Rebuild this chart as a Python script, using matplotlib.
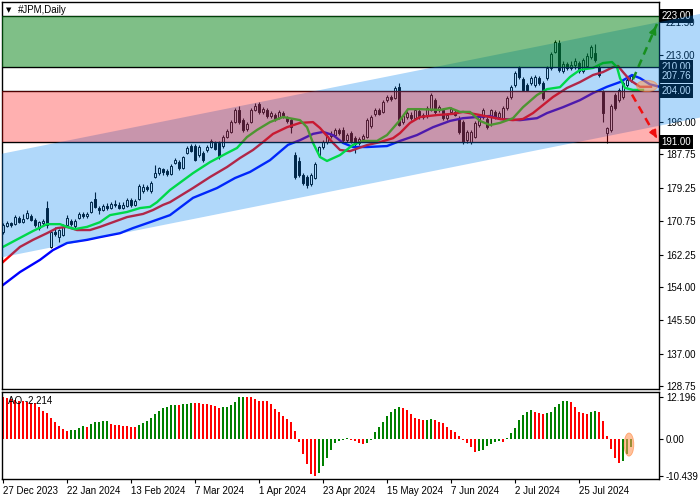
import matplotlib
matplotlib.use("Agg")
import matplotlib.pyplot as plt
from matplotlib.patches import Rectangle, Ellipse, Polygon
from matplotlib.transforms import blended_transform_factory
import numpy as np

plt.rcParams['font.family'] = ['Liberation Sans', 'DejaVu Sans']

# ---------------- data ----------------
opens = [168.0, 169.6, 170.2, 170.0, 171.6, 170.6, 171.6, 172.0, 171.1, 169.0,
         170.3, 174.1, 164.2, 168.0, 166.6, 167.2, 169.8, 170.8, 169.6, 171.6,
         172.5, 172.0, 173.1, 176.4, 174.1, 173.6, 174.6, 174.1, 175.1, 174.8,
         174.1, 174.6, 176.1, 174.9, 176.4, 178.4, 179.5, 178.4, 182.0, 183.0,
         184.0, 183.5, 182.8, 185.6, 185.8, 184.3, 188.1, 189.9, 189.9, 187.6,
         188.1, 188.9, 189.6, 190.6, 190.7, 189.9, 192.2, 193.5, 196.0, 199.1,
         196.5, 194.3, 196.0, 199.1, 200.6, 198.6, 199.1, 197.6, 197.8, 197.2,
         198.3, 197.0, 196.5, 187.6, 186.0, 182.5, 182.0, 180.2, 181.8, 187.6,
         189.6, 190.9, 192.5, 192.7, 193.9, 194.0, 191.4, 193.2, 191.9, 190.6,
         191.7, 192.2, 195.0, 198.0, 199.0, 198.5, 201.6, 202.3, 202.1, 204.9,
         196.0, 197.3, 197.9, 197.0, 198.8, 197.3, 197.5, 199.1, 201.6, 199.1,
         199.1, 197.0, 198.6, 198.6, 197.0, 196.0, 191.4, 191.0, 192.2, 195.3,
         197.3, 196.8, 197.3, 198.6, 197.3, 197.0, 199.6, 202.4, 205.4, 209.8,
         207.0, 205.4, 205.9, 205.4, 207.2, 206.0, 207.2, 209.8, 213.9, 216.1,
         209.0, 210.8, 209.8, 210.5, 211.0, 209.0, 210.3, 212.6, 213.6, 210.0,
         203.7, 193.2, 194.0, 202.9, 201.6, 202.4, 205.4, 206.7]
highs = [170.3, 170.8, 170.5, 172.3, 172.0, 172.6, 173.6, 172.6, 171.6, 170.8,
         171.4, 176.0, 168.5, 169.3, 168.8, 170.0, 172.4, 171.3, 171.3, 173.1,
         173.0, 173.0, 176.0, 178.2, 174.6, 175.1, 175.3, 175.6, 176.1, 175.6,
         175.6, 176.6, 176.6, 176.3, 180.2, 180.3, 180.0, 181.0, 185.0, 184.6,
         184.3, 184.0, 185.2, 186.8, 186.3, 187.4, 189.9, 190.4, 190.4, 190.1,
         188.6, 190.1, 191.6, 191.2, 191.2, 192.7, 194.2, 196.5, 199.6, 200.1,
         197.0, 196.0, 199.6, 200.9, 201.1, 199.8, 199.6, 198.8, 198.3, 199.0,
         198.8, 197.5, 197.0, 188.5, 187.1, 183.0, 182.5, 183.0, 185.8, 190.0,
         191.4, 193.0, 193.8, 194.5, 194.4, 194.8, 193.1, 193.7, 192.4, 192.2,
         193.0, 197.0, 197.8, 199.5, 199.6, 201.6, 202.9, 202.9, 205.2, 206.0,
         198.0, 198.8, 198.5, 199.5, 199.3, 198.3, 200.0, 203.4, 202.1, 200.3,
         199.6, 198.3, 199.8, 199.1, 197.5, 196.5, 194.0, 194.0, 196.3, 197.8,
         199.6, 197.3, 199.4, 199.1, 198.8, 200.1, 202.6, 205.4, 209.0, 210.3,
         207.5, 205.9, 207.7, 208.0, 207.7, 206.5, 210.3, 213.8, 216.9, 216.9,
         211.5, 211.3, 211.5, 212.3, 211.5, 212.3, 213.6, 215.6, 215.9, 210.5,
         204.2, 194.7, 200.6, 203.4, 204.7, 206.4, 207.5, 208.0]
lows = [167.5, 169.2, 169.3, 169.8, 170.2, 170.3, 171.3, 170.8, 169.3, 168.5,
        169.8, 169.0, 164.0, 167.0, 165.4, 167.0, 169.5, 169.5, 169.0, 171.3,
        171.6, 171.6, 172.8, 174.0, 172.6, 173.3, 173.5, 173.8, 174.4, 173.8,
        173.8, 174.3, 174.4, 174.6, 176.1, 178.0, 178.4, 178.0, 181.7, 182.6,
        182.6, 182.3, 182.5, 185.2, 183.8, 184.0, 187.8, 188.3, 186.0, 187.1,
        185.8, 188.4, 189.4, 188.9, 186.6, 189.4, 191.9, 193.2, 195.8, 195.5,
        193.6, 193.8, 195.7, 198.8, 198.1, 198.0, 197.1, 197.0, 196.3, 196.8,
        197.0, 195.8, 193.2, 181.5, 182.0, 180.0, 179.2, 179.8, 181.5, 187.2,
        189.2, 190.5, 192.0, 192.4, 192.8, 191.0, 190.9, 190.7, 188.1, 190.2,
        191.2, 191.9, 194.6, 197.6, 197.7, 198.2, 201.2, 201.3, 201.8, 194.9,
        195.5, 196.8, 196.5, 196.7, 196.9, 196.8, 197.1, 198.8, 198.1, 198.7,
        196.5, 196.5, 198.1, 197.5, 193.0, 190.5, 190.7, 190.5, 191.9, 194.8,
        196.9, 194.2, 195.0, 196.8, 196.8, 196.6, 199.2, 202.0, 205.0, 207.0,
        203.8, 203.8, 205.5, 205.0, 205.5, 201.7, 206.8, 209.3, 213.5, 208.8,
        208.5, 209.3, 209.3, 209.6, 208.5, 208.6, 210.0, 212.2, 211.3, 207.5,
        196.0, 190.7, 193.5, 199.1, 201.1, 202.0, 205.0, 206.3]
closes = [169.8, 170.2, 169.8, 171.8, 170.6, 171.3, 172.8, 171.1, 169.8, 170.5,
          170.9, 169.8, 168.0, 167.5, 168.4, 169.3, 171.6, 170.0, 170.8, 172.6,
          172.0, 172.5, 175.6, 174.4, 173.6, 174.6, 174.0, 175.1, 174.8, 174.1,
          175.0, 176.1, 174.8, 175.8, 179.7, 179.5, 179.0, 180.5, 183.0, 184.2,
          183.2, 182.8, 184.8, 186.3, 184.3, 187.1, 189.4, 188.6, 186.3, 189.6,
          186.3, 189.6, 191.2, 189.2, 187.1, 192.2, 193.7, 196.0, 199.1, 196.0,
          194.0, 195.5, 199.1, 200.1, 198.6, 199.3, 197.6, 198.3, 196.8, 198.5,
          197.6, 196.2, 194.8, 182.0, 182.5, 180.5, 180.0, 182.5, 185.3, 189.6,
          190.9, 192.5, 193.0, 194.0, 193.3, 191.4, 192.6, 191.2, 190.4, 191.7,
          192.5, 196.5, 197.3, 199.0, 198.1, 201.1, 202.4, 201.8, 204.7, 195.3,
          197.5, 198.3, 197.0, 199.0, 197.3, 197.8, 199.5, 202.9, 198.6, 199.8,
          197.0, 197.8, 199.3, 197.9, 193.5, 190.9, 193.5, 193.5, 195.8, 197.3,
          199.1, 194.7, 199.1, 197.3, 198.3, 199.6, 202.1, 204.9, 208.5, 207.5,
          204.2, 204.2, 207.2, 207.5, 206.0, 202.1, 209.8, 213.3, 216.4, 209.3,
          210.8, 209.8, 210.5, 211.6, 209.0, 211.8, 212.8, 215.1, 211.8, 208.0,
          198.3, 194.5, 200.1, 199.6, 204.2, 205.9, 206.7, 207.76]

ao_values = [12.01, 11.91, 11.62, 11.34, 11.05, 10.86, 10.67, 10.48, 10.29, 9.34,
             8.19, 7.43, 6.10, 4.86, 3.81, 3.05, 2.48, 2.67, 2.77, 3.33,
             3.81, 3.62, 4.38, 4.95, 5.05, 5.10, 5.14, 4.38, 4.20, 4.10,
             3.90, 3.81, 3.62, 3.52, 4.20, 4.76, 5.33, 6.10, 7.24, 8.19,
             8.86, 9.34, 9.72, 9.91, 9.72, 10.00, 10.19, 10.48, 10.39, 10.29,
             10.10, 10.00, 9.81, 9.43, 9.05, 9.15, 9.34, 9.81, 10.67, 12.01,
             12.196, 12.10, 12.01, 11.53, 11.05, 10.96, 10.86, 10.10, 8.67, 7.72,
             6.76, 5.81, 4.86, 2.39, -0.66, -4.10, -7.05, -9.81, -10.439, -9.53,
             -7.62, -5.24, -3.05, -0.96, -0.47, -0.19, 0.47, -0.09, -0.57, -0.96,
             -1.34, -1.15, -0.10, 2.09, 3.43, 5.05, 6.67, 7.81, 8.77, 9.34,
             9.05, 8.38, 7.24, 6.10, 5.72, 5.53, 5.62, 5.72, 5.43, 4.95,
             4.67, 3.62, 2.67, 2.00, 0.96, -0.28, -0.96, -2.28, -3.52, -3.43,
             -2.95, -2.00, -1.34, -0.85, -0.57, -0.76, 0.38, 1.71, 3.24, 5.53,
             6.95, 7.81, 8.29, 7.91, 7.53, 7.34, 7.62, 7.81, 9.15, 10.00,
             10.86, 10.96, 10.67, 9.15, 7.72, 7.53, 7.34, 7.91, 8.10, 7.81,
             5.14, 1.05, -2.67, -5.24, -6.86, -6.29, -4.19, -2.214]

# Alligator lines: (bar index, price)
lips_x = [0, 4.25, 7.5, 11, 14.25, 16, 18, 21, 24.25, 26.75, 31, 34.25, 36.75, 38.5,
          41.75, 47.5, 51.75, 56, 58.5, 61, 63.5, 66.75, 70, 74.25, 76, 77.5, 79.25,
          81, 84.25, 87.5, 90, 93.5, 96, 99.25, 101.25, 104.25, 109.25, 111.75,
          114.25, 116.75, 119.25, 121.75, 124.25, 127.5, 130, 133.5, 136, 139.25,
          141.75, 144.25, 147.5, 150, 152.25, 153.5, 154.25, 155.5, 157.5, 160]
lips_y = [164.2, 166.5, 168.25, 170.0, 170.0, 169.3, 168.75, 169.3, 170.5, 172.3,
          173.1, 174.1, 174.4, 175.6, 178.7, 183.0, 185.8, 188.1, 189.4, 192.2,
          194.0, 196.0, 197.3, 196.5, 194.7, 190.7, 187.1, 186.1, 187.6, 190.2,
          191.2, 191.2, 192.7, 196.5, 199.3, 199.3, 199.1, 199.6, 198.6, 198.6,
          196.3, 195.25, 195.8, 197.0, 199.8, 202.9, 204.4, 204.9, 207.5, 209.3,
          209.8, 211.05, 211.3, 210.0, 207.2, 204.7, 204.2, 204.2]
teeth_x = [0, 4.25, 7.5, 11, 13.5, 16, 18.5, 21.75, 24.25, 27.5, 31, 35, 37.5, 40,
           41.75, 47.5, 51.75, 56, 59.25, 62.5, 65, 67.5, 71, 74.25, 77.5, 79.25,
           82.5, 84.25, 86.75, 91, 94.25, 97.5, 99.25, 101.75, 104.25, 108.5, 112.5,
           115, 119.25, 121.75, 124.25, 127.5, 130, 132.5, 135, 137.5, 141, 144.25,
           147.5, 150, 152.5, 153.75, 155, 156.75, 159.25, 162]
teeth_y = [160.35, 164.2, 166.0, 167.7, 169.0, 169.3, 168.5, 168.5, 169.3, 170.5,
           171.8, 172.6, 173.6, 174.9, 175.6, 179.2, 182.0, 184.55, 186.85, 188.9,
           190.9, 193.0, 194.7, 195.8, 196.0, 194.5, 190.7, 188.9, 188.6, 190.15,
           190.9, 191.9, 193.2, 195.8, 197.3, 197.8, 198.1, 198.6, 197.8, 197.3,
           196.8, 196.5, 196.8, 198.3, 200.35, 202.4, 204.7, 206.2, 208.0, 208.75,
           210.0, 210.3, 208.75, 206.7, 205.0, 205.0]
jaw_x = [0, 4.25, 9.25, 12.5, 16, 21, 24.25, 29.25, 32.5, 36.75, 41.75, 47.5, 53.5,
         58, 61.75, 66.75, 71.25, 74.25, 77.5, 80, 82.5, 85, 87.5, 91, 96, 99.25,
         103.5, 107.5, 111.75, 115, 118.5, 121.75, 124.25, 129.25, 133.5, 136, 140,
         144.25, 147.5, 151, 154.25, 157.25, 159.25, 161.75, 165]
jaw_y = [154.5, 157.8, 160.9, 163.4, 165.2, 166.0, 166.7, 167.7, 169.0, 170.5,
         172.3, 176.7, 179.2, 181.75, 183.3, 186.3, 190.2, 191.4, 193.0, 193.5,
         192.7, 190.7, 189.65, 189.65, 189.9, 191.2, 192.7, 194.7, 196.3, 197.0,
         197.3, 197.55, 196.8, 196.5, 197.0, 198.3, 199.8, 201.6, 203.4, 205.0,
         206.2, 208.0, 207.2, 205.6, 204.8]

# drawn objects
levels = [223.0, 210.0, 204.0, 191.0]
level_labels = ['223.00', '210.00', '204.00', '191.00']
current_price = 207.76
channel_x = [-0.25, 174.25]
channel_upper = [187.95, 223.55]
channel_lower = [161.55, 197.15]
up_arrow = [(157.5, 206.9), (163.5, 221.0)]
down_arrow = [(157.25, 203.0), (163.75, 191.4)]

price_ticks = [221.50, 213.00, 204.00, 196.00, 187.75, 179.25, 170.75,
               162.25, 154.00, 145.50, 137.00, 128.75]
ao_ticks = [12.196, 0.0, -10.439]
ao_tick_labels = ['12.196', '0.00', '-10.439']
date_idx = [0, 16, 32, 48, 64, 80, 96, 112, 128, 144]
date_labels = ['27 Dec 2023', '22 Jan 2024', '13 Feb 2024', '7 Mar 2024', '1 Apr 2024',
               '23 Apr 2024', '15 May 2024', '7 Jun 2024', '2 Jul 2024', '25 Jul 2024']

# ---------------- figure ----------------
fig = plt.figure(figsize=(7, 5), dpi=100)
fig.patch.set_facecolor('white')
ax = fig.add_axes([2 / 700, 111 / 500, 657 / 700, 387 / 500])
ao = fig.add_axes([2 / 700, 21 / 500, 657 / 700, 87 / 500])

FS = 7
xmin, xmax = -0.25, 164.0
ax.set_xlim(xmin, xmax)
ax.set_ylim(128.0, 226.6)

n = len(closes)
idx = np.arange(n)

# candles (drawn below the translucent objects)
for i in range(n):
    o, h, l, c = opens[i], highs[i], lows[i], closes[i]
    ax.plot([i, i], [l, h], color='black', lw=0.8, zorder=1, solid_capstyle='butt')
    bottom = min(o, c)
    height = max(abs(c - o), 0.12)
    ax.add_patch(Rectangle((i - 0.3, bottom), 0.6, height,
                           facecolor='white' if c >= o else 'black',
                           edgecolor='black', lw=0.7, zorder=1.1))

# Alligator
ax.plot(jaw_x, jaw_y, color=(0, 0, 1), lw=1.7, zorder=2)
ax.plot(teeth_x, teeth_y, color=(1, 0, 0), lw=1.7, zorder=2.05)
ax.plot(lips_x, lips_y, color=(0, 1, 0), lw=1.7, zorder=2.1)

for v in levels:
    ax.axhline(v, color='black', lw=1.0, zorder=2.2)

# right price scale (the 204.00 value is shown by its level box)
ax.yaxis.tick_right()
ax.set_yticks(price_ticks)
ax.set_yticklabels(['' if t in levels else f'{t:.2f}' for t in price_ticks])
ax.tick_params(axis='y', direction='out', length=3, width=0.8, pad=2, labelsize=FS)
ax.tick_params(axis='x', bottom=False, labelbottom=False)
for s in ax.spines.values():
    s.set_linewidth(1.0)

# level label boxes (under the channel overlay)
tr = blended_transform_factory(ax.transAxes, ax.transData)
for v, s in list(zip(levels, level_labels)) + [(current_price, f'{current_price:.2f}')]:
    ax.text(1.004, v, s, transform=tr, fontsize=FS, color='white', va='center', ha='left',
            bbox=dict(boxstyle='square,pad=0.22', fc='black', ec='none'),
            zorder=2.8, clip_on=False)

# translucent channel and rectangles
chan = Polygon([(channel_x[0], channel_upper[0]), (channel_x[1], channel_upper[1]),
                (channel_x[1], channel_lower[1]), (channel_x[0], channel_lower[0])],
               closed=True, facecolor=(0, 129 / 255, 239 / 255), alpha=0.31,
               edgecolor='none', zorder=3, clip_on=False)
ax.add_patch(chan)
ax.axhspan(levels[3], levels[2], facecolor=(1, 0, 0), alpha=0.31, lw=0, zorder=3.1)
ax.axhspan(levels[1], levels[0], facecolor=(0, 0.5, 0.063), alpha=0.5, lw=0, zorder=3.1)

# forecast arrows
for (p0, p1), col in [(up_arrow, '#178f1e'), (down_arrow, '#f01010')]:
    ax.plot([p0[0], p1[0]], [p0[1], p1[1]], color=col, lw=1.8, ls=(0, (3.2, 2.2)),
            zorder=5, clip_on=False)
    ax.annotate('', xy=p1, xytext=(p1[0] - (p1[0] - p0[0]) * 0.12, p1[1] - (p1[1] - p0[1]) * 0.12),
                arrowprops=dict(arrowstyle='-|>', color=col, lw=1.2, mutation_scale=11),
                zorder=5, annotation_clip=False)

ax.add_patch(Ellipse((161.0, 205.2), 5.2, 2.9, facecolor=(1, 0.6, 0.35), alpha=0.55,
                     edgecolor=(1, 0.5, 0.2), lw=0.6, zorder=6, clip_on=False))

# title
fig.text(6 / 700, 1 - 10 / 500, '\u25bc', fontsize=5, family='DejaVu Sans', va='center', ha='left')
fig.text(18 / 700, 1 - 10 / 500, '#JPM,Daily', fontsize=FS, va='center', ha='left')

# ---------------- AO panel ----------------
ao.set_xlim(xmin, xmax)
ao.set_ylim(-11.34, 13.51)
ao_colors = []
for i, v in enumerate(ao_values):
    if i > 0 and v > ao_values[i - 1]:
        ao_colors.append((0, 0.5, 0))
    else:
        ao_colors.append((1, 0, 0))
ao.bar(idx, ao_values, width=0.66, color=ao_colors, lw=0, zorder=1)
ao.yaxis.tick_right()
ao.set_yticks(ao_ticks)
ao.set_yticklabels(ao_tick_labels)
ao.tick_params(axis='y', direction='out', length=3, width=0.8, pad=2, labelsize=FS)
ao.set_xticks(date_idx)
ao.set_xticklabels(date_labels, ha='left')
ao.tick_params(axis='x', direction='out', length=3, width=0.8, pad=2, labelsize=FS)
for s in ao.spines.values():
    s.set_linewidth(1.0)
ao.text(0.009, 0.897, 'AO -2.214', transform=ao.transAxes, fontsize=FS, va='center',
        ha='left', zorder=4)
ao.add_patch(Ellipse((156.5, -1.5), 2.4, 6.6, facecolor=(1, 0.6, 0.35), alpha=0.6,
                     edgecolor=(1, 0.5, 0.2), lw=0.6, zorder=3))

fig.savefig('out.png', dpi=100)
